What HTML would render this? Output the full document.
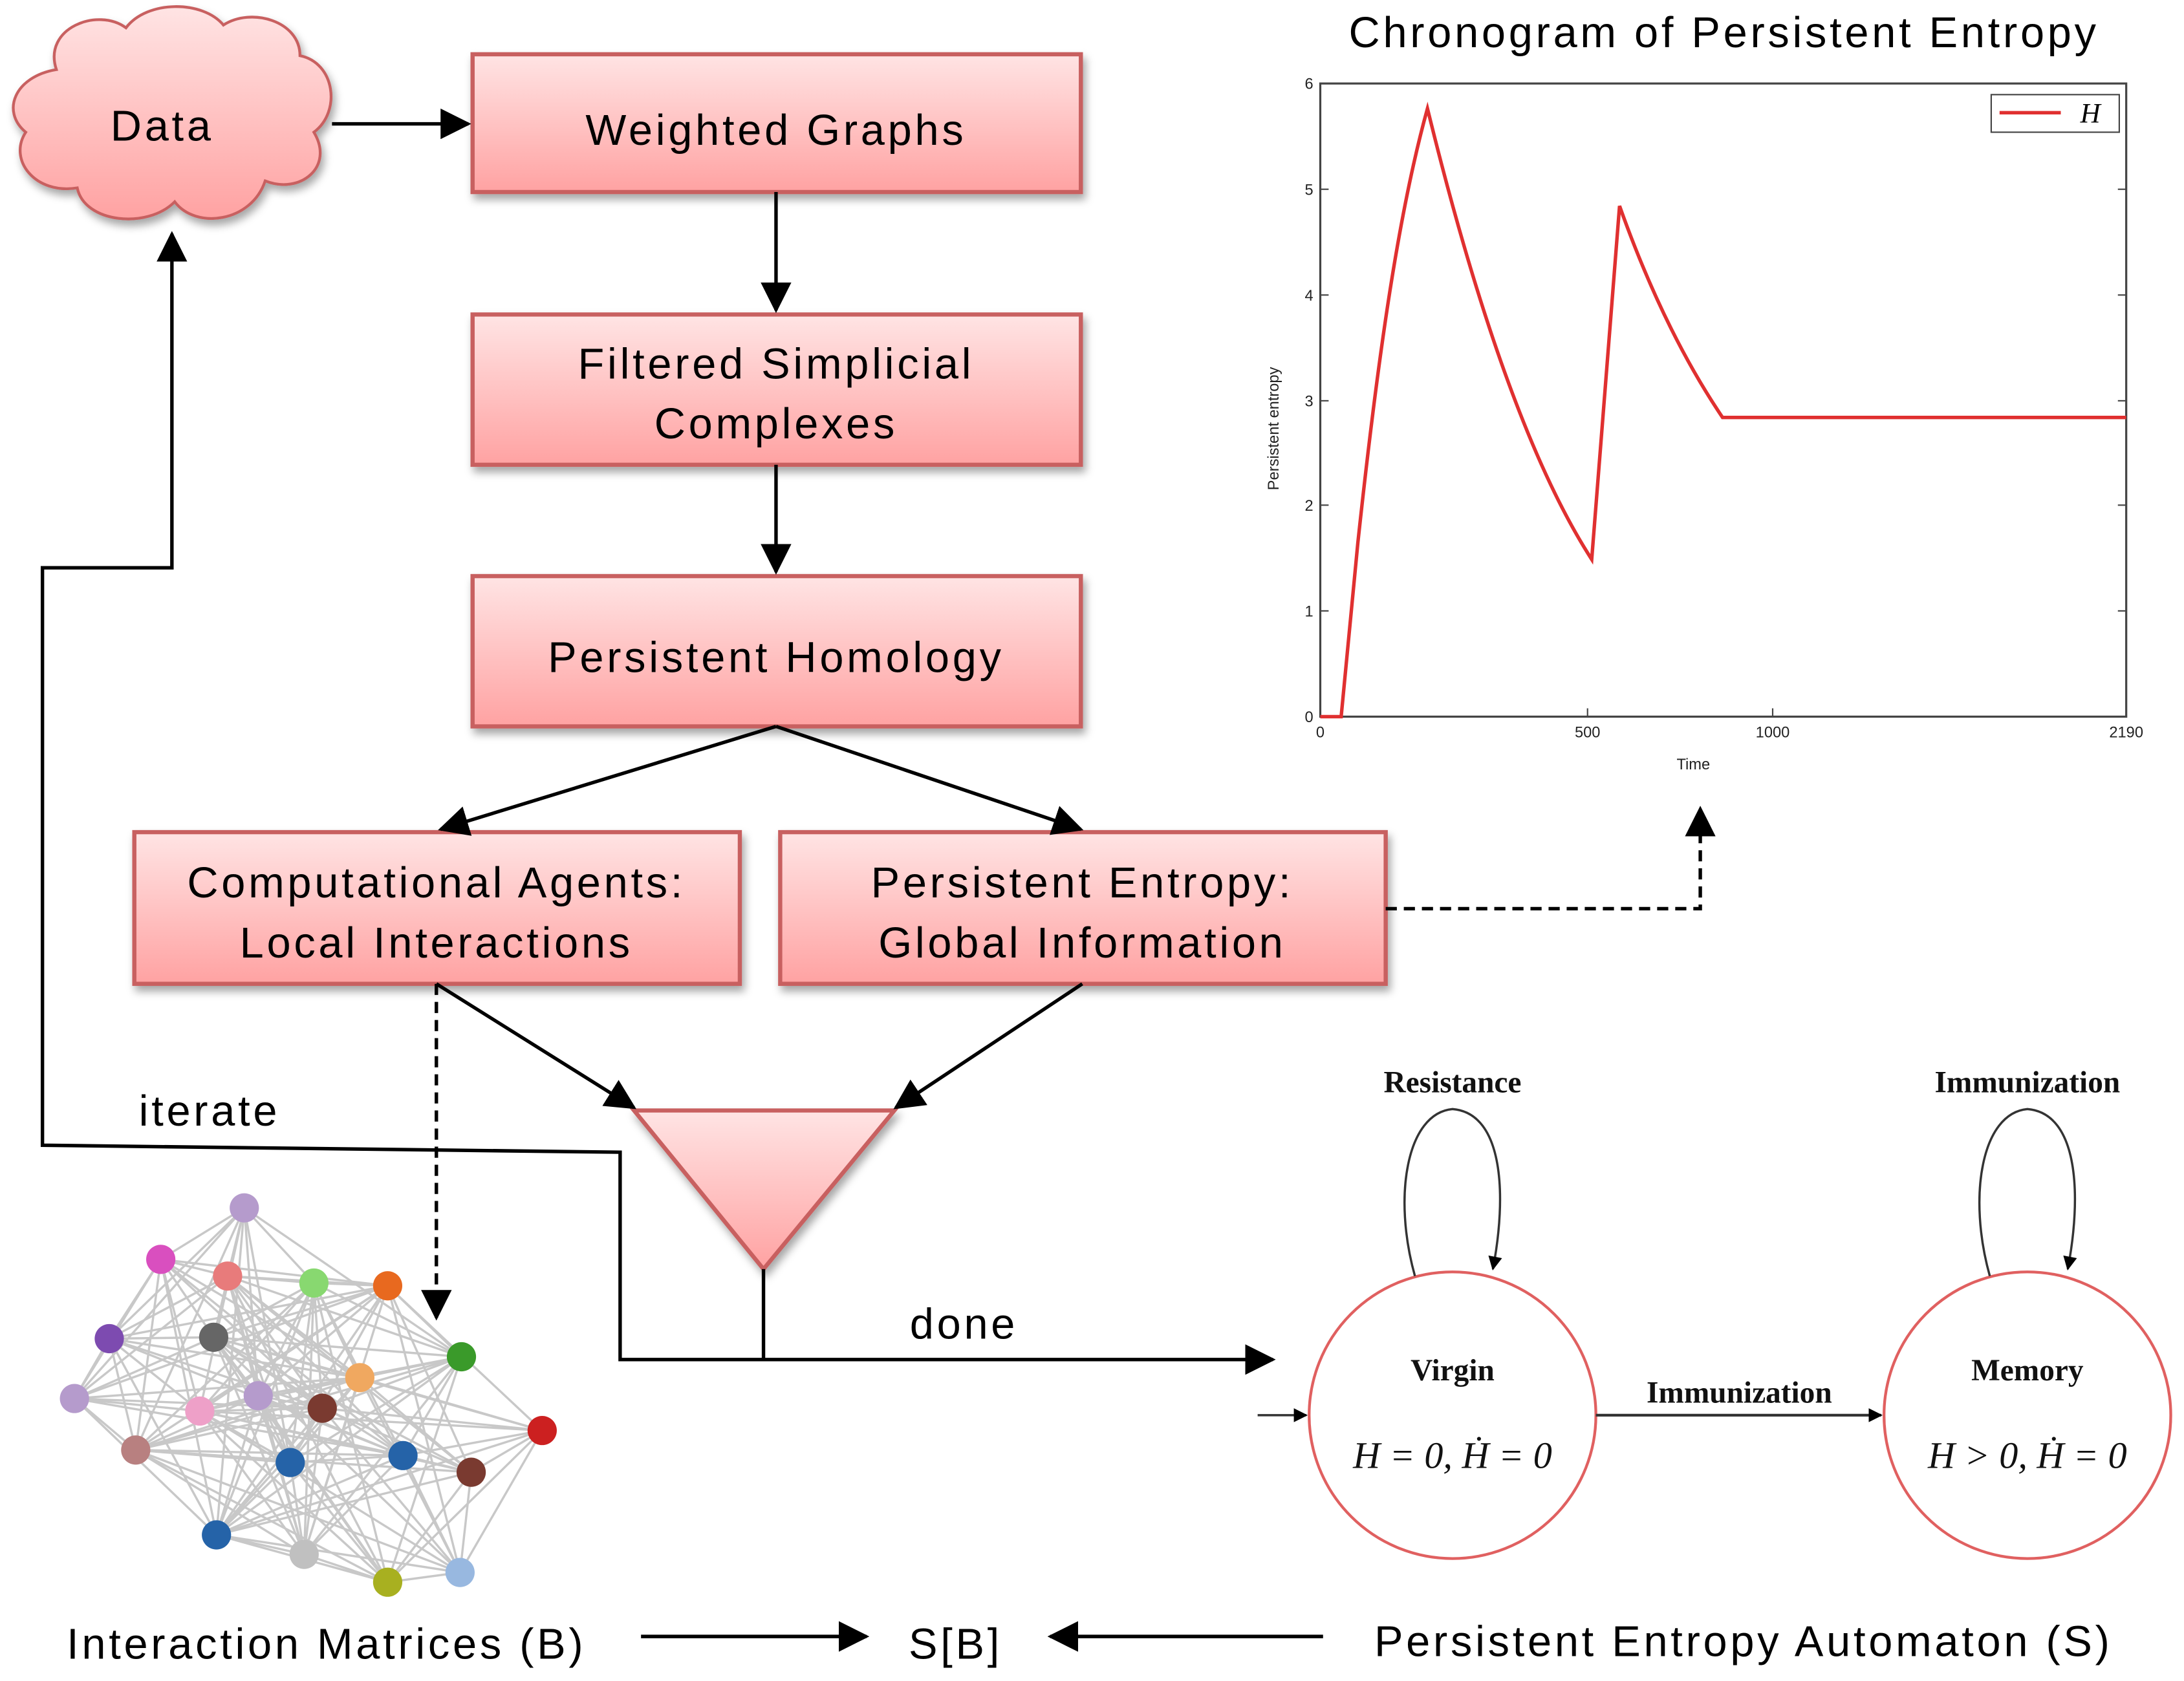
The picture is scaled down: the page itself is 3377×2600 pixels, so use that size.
<!DOCTYPE html>
<html><head><meta charset="utf-8"><style>html,body{margin:0;padding:0;background:#fff}svg{display:block}</style></head>
<body>
<svg xmlns="http://www.w3.org/2000/svg" width="3377" height="2600" viewBox="0 0 1568 1208" font-family="Liberation Sans, sans-serif">
<defs>
<linearGradient id="g" x1="0" y1="0" x2="0" y2="1"><stop offset="0" stop-color="#ffe4e4"/><stop offset="1" stop-color="#ffa2a2"/></linearGradient>
<filter id="sh" x="-10%" y="-10%" width="130%" height="140%"><feDropShadow dx="2" dy="4" stdDeviation="3" flood-color="#000" flood-opacity="0.35"/></filter>
<marker id="a" markerWidth="22" markerHeight="22" refX="20" refY="11" orient="auto" markerUnits="userSpaceOnUse" viewBox="0 0 22 22"><path d="M0,0 L22,11 L0,22z" fill="#000"/></marker>
<marker id="s" markerWidth="10" markerHeight="10" refX="9" refY="5" orient="auto" markerUnits="userSpaceOnUse" viewBox="0 0 10 10"><path d="M0,0 L10,5 L0,10z" fill="#000"/></marker>
</defs>
<g id="net" stroke="#bbb" stroke-width="1.6" opacity="0.8"></g>
<g id="nodes"></g>
<path d="M40,50 C30,20 70,5 90,20 C105,0 145,0 160,18 C180,5 215,15 215,40 C240,45 245,80 225,95 C240,120 215,140 190,130 C180,160 140,165 125,145 C105,165 60,160 55,135 C25,140 5,115 18,95 C0,80 10,55 40,50Z" fill="url(#g)" stroke="#c86060" stroke-width="2" filter="url(#sh)"/>
<g fill="url(#g)" stroke="#c86060" stroke-width="3" filter="url(#sh)">
<rect x="339" y="39" width="437" height="99"/>
<rect x="339" y="226" width="437" height="108"/>
<rect x="339" y="414" width="437" height="108"/>
<rect x="96" y="598" width="435" height="109"/>
<rect x="560" y="598" width="435" height="109"/>
<path d="M455,798 L642,798 L548,912Z"/>
</g>
<g font-size="31" text-anchor="middle" letter-spacing="2.2">
<text x="116" y="101">Data</text>
<text x="557" y="104">Weighted Graphs</text>
<text x="557" y="272">Filtered Simplicial</text><text x="557" y="315">Complexes</text>
<text x="557" y="483">Persistent Homology</text>
<text x="313" y="645">Computational Agents:</text><text x="313" y="688">Local Interactions</text>
<text x="777" y="645">Persistent Entropy:</text><text x="777" y="688">Global Information</text>
<text x="150" y="809">iterate</text>
<text x="692" y="962">done</text>
<text x="234" y="1192">Interaction Matrices (B)</text>
<text x="686" y="1192">S[B]</text>
<text x="1252" y="1190">Persistent Entropy Automaton (S)</text>
<text x="1238" y="34">Chronogram of Persistent Entropy</text>
</g>
<g stroke="#000" stroke-width="2.5" fill="none">
<line x1="238" y1="89" x2="336" y2="89" marker-end="url(#a)"/>
<line x1="557" y1="138" x2="557" y2="223" marker-end="url(#a)"/>
<line x1="557" y1="334" x2="557" y2="411" marker-end="url(#a)"/>
<line x1="557" y1="522" x2="316" y2="596" marker-end="url(#a)"/>
<line x1="557" y1="522" x2="776" y2="596" marker-end="url(#a)"/>
<line x1="313" y1="707" x2="455" y2="796" marker-end="url(#a)"/>
<line x1="777" y1="707" x2="643" y2="796" marker-end="url(#a)"/>
<polyline points="548,912 548,977 445,977 445,828 30,823 30,408 123,408 123,168" marker-end="url(#a)"/>
<line x1="548" y1="977" x2="914" y2="977" marker-end="url(#a)"/>
<polyline points="995,653 1221,653 1221,581" stroke-dasharray="8,5" marker-end="url(#a)"/>
<line x1="313" y1="707" x2="313" y2="947" stroke-dasharray="8,5" marker-end="url(#a)"/>
<line x1="460" y1="1176" x2="622" y2="1176" marker-end="url(#a)"/>
<line x1="950" y1="1176" x2="754" y2="1176" marker-end="url(#a)"/>
</g>
<rect x="948" y="60" width="579" height="455" fill="none" stroke="#444" stroke-width="1.5"/>
<g stroke="#444" stroke-width="1">
<line x1="948" y1="439" x2="954" y2="439"/><line x1="948" y1="363" x2="954" y2="363"/><line x1="948" y1="288" x2="954" y2="288"/><line x1="948" y1="212" x2="954" y2="212"/><line x1="948" y1="136" x2="954" y2="136"/>
<line x1="1527" y1="439" x2="1521" y2="439"/><line x1="1527" y1="363" x2="1521" y2="363"/><line x1="1527" y1="288" x2="1521" y2="288"/><line x1="1527" y1="212" x2="1521" y2="212"/><line x1="1527" y1="136" x2="1521" y2="136"/>
<line x1="1140" y1="515" x2="1140" y2="509"/><line x1="1273" y1="515" x2="1273" y2="509"/>
</g>
<g font-size="11" fill="#222" text-anchor="end">
<text x="943" y="519">0</text><text x="943" y="443">1</text><text x="943" y="367">2</text><text x="943" y="292">3</text><text x="943" y="216">4</text><text x="943" y="140">5</text><text x="943" y="64">6</text>
</g>
<g font-size="11" fill="#222" text-anchor="middle">
<text x="948" y="530">0</text><text x="1140" y="530">500</text><text x="1273" y="530">1000</text><text x="1527" y="530">2190</text>
<text x="1216" y="553">Time</text>
<text transform="translate(918,308) rotate(-90)">Persistent entropy</text>
</g>
<rect x="1430" y="68" width="92" height="27" fill="#fff" stroke="#444" stroke-width="1"/>
<line x1="1436" y1="81" x2="1480" y2="81" stroke="#e03030" stroke-width="2.5"/>
<text x="1494" y="88" font-size="20" font-style="italic" font-family="Liberation Serif, serif">H</text>
<path d="M948,515 L963,515 L975,390 C990,250 1005,150 1025,78 C1050,180 1090,320 1143,402 L1163,148 C1185,210 1210,260 1237,300 L1527,300" fill="none" stroke="#e03030" stroke-width="2.5"/>
<g fill="none" stroke="#e06060" stroke-width="2"><circle cx="1043" cy="1017" r="103"/><circle cx="1456" cy="1017" r="103"/></g>
<g fill="none" stroke="#333" stroke-width="1.6">
<path d="M1016,917 C1000,860 1010,800 1043,797 C1080,800 1082,860 1072,912" marker-end="url(#s)"/>
<path d="M1429,917 C1413,860 1423,800 1456,797 C1493,800 1495,860 1485,912" marker-end="url(#s)"/>
<line x1="1146" y1="1017" x2="1351" y2="1017" stroke-width="2" marker-end="url(#s)"/>
<line x1="903" y1="1017" x2="938" y2="1017" marker-end="url(#s)"/>
</g>
<g font-family="Liberation Serif, serif" font-size="22" text-anchor="middle" fill="#111" font-weight="bold">
<text x="1043" y="785">Resistance</text><text x="1456" y="785">Immunization</text>
<text x="1249" y="1008">Immunization</text>
<text x="1043" y="992">Virgin</text><text x="1456" y="992">Memory</text>
<text x="1043" y="1055" font-style="italic" font-size="27" font-weight="normal">H = 0,  Ḣ = 0</text>
<text x="1456" y="1055" font-style="italic" font-size="27" font-weight="normal">H &gt; 0,  Ḣ = 0</text>
</g>
<script><![CDATA[
(function(){
var N=[[175,868,"#b59bcc"],[115,905,"#d94fbf"],[163,917,"#e87b7b"],[225,922,"#88d870"],[278,924,"#e8691f"],[78,962,"#7d4bb0"],[153,961,"#666"],[331,975,"#3a9a2a"],[258,990,"#f0a860"],[53,1005,"#b59bcc"],[143,1014,"#eea0c8"],[185,1003,"#b59bcc"],[231,1012,"#7a3a30"],[389,1028,"#cc2020"],[97,1042,"#b88080"],[208,1051,"#2563a8"],[289,1046,"#2563a8"],[338,1058,"#7a3a30"],[155,1103,"#2563a8"],[218,1117,"#c0c0c0"],[278,1137,"#a8b020"],[330,1130,"#98b8e0"]];
var ns="http://www.w3.org/2000/svg",g=document.getElementById("net"),h=document.getElementById("nodes");
for(var i=0;i<N.length;i++)for(var j=i+1;j<N.length;j++){var dx=N[i][0]-N[j][0],dy=N[i][1]-N[j][1];if(Math.sqrt(dx*dx+dy*dy)<250&&(i*7+j*3)%4!=0){var l=document.createElementNS(ns,"line");l.setAttribute("x1",N[i][0]);l.setAttribute("y1",N[i][1]);l.setAttribute("x2",N[j][0]);l.setAttribute("y2",N[j][1]);g.appendChild(l);}}
for(var k=0;k<N.length;k++){var c=document.createElementNS(ns,"circle");c.setAttribute("cx",N[k][0]);c.setAttribute("cy",N[k][1]);c.setAttribute("r",10.5);c.setAttribute("fill",N[k][2]);h.appendChild(c);}
})();
]]></script>
</svg>
</body></html>
